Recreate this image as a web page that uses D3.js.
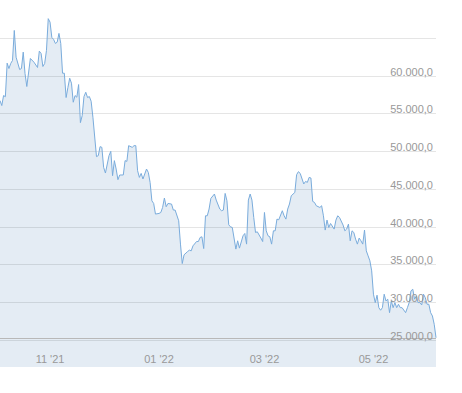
<!DOCTYPE html>
<html>
<head>
<meta charset="utf-8">
<script src="https://cdn.jsdelivr.net/npm/d3@7"></script>
<style>
  body { margin: 0; background: #fff; }
  text { font-family: Arial, "Liberation Sans", sans-serif; font-size: 11px; fill: #999; }
</style>
</head>
<body>
<div id="chart"></div>
<script>
// price series (day offset from startDate -> value)
var startDate = "2021-10-04";
var dayOffsets = [0,1,2,3,4,5,6,7,8,9,11,12,13,14,15,17,19,21,22,23,24,25,26,27,28,29,30,31,32,33,34,35,36,37,38,39,40,41,42,43,44,45,46,47,48,49,50,51,52,
  54,55,56,57,58,59,61,62,63,64,65,66,67,69,70,71,72,74,75,76,77,78,79,80,82,83,84,85,86,87,89,90,91,92,93,94,96,97,98,
  100,101,102,103,105,106,107,108,110,111,112,113,114,115,116,117,118,120,121,123,124,125,126,127,128,129,130,132,133,134,136,137,138,139,140,141,142,143,144,146,147,148,149,
  150,151,152,153,154,155,156,158,159,160,161,162,163,165,166,167,168,170,171,172,173,174,175,176,177,179,180,181,182,183,184,185,187,188,189,190,192,193,194,195,196,197,198,199,
  200,201,202,203,204,205,206,207,208,209,210,211,212,213,214,215,216,217,218,219,220,221,222,223,224,225,227,228,229,230,231,232,233,234,235,236,237,238,239,240,241,242,243,244];
var prices = [56690,56030,57350,57200,61640,60930,61600,62000,65970,62430,60800,60930,63100,60270,58550,62260,61770,61070,63230,62920,61200,61600,63320,67530,67070,65050,64780,64250,64420,65580,64250,60310,60310,57090,58420,59650,58990,56470,57350,57130,58810,53770,54700,57220,57790,57090,57220,56600,54480,
  49270,49400,50590,50500,47850,47100,49400,49970,46750,48740,47630,46220,46840,46840,48740,48640,50720,50500,50720,50720,47410,46520,47050,46310,47630,47180,45860,43430,43070,41670,41750,41880,42540,43790,42640,43070,42990,42200,42200,
  40780,37690,35120,36270,36710,36890,36800,37460,38030,38030,38570,38660,37100,41440,41440,42330,43740,44320,43520,42330,42110,42200,44400,43430,40250,39980,39890,37030,38130,37160,38790,39100,37690,43520,44320,43520,41220,39230,39320,38490,38030,41880,39450,
  38790,38660,37690,39450,39450,41000,40910,42110,41440,41000,42330,43000,44090,44530,46880,47280,47050,45650,45990,45860,46520,46440,43340,43210,42770,42540,42770,41440,39550,40870,39890,40420,39680,40870,41440,41220,40210,39450,39680,40340,38130,39450,39230,38350,
  37690,38490,38130,37690,39550,36800,36140,35480,34150,31060,29950,30930,29280,28940,29280,31060,30170,30400,28620,30170,29280,29950,29280,29730,29280,29280,28620,29280,29950,31500,31720,30400,30830,29950,29950,29640,31060,30610,29730,29730,28620,28180,27080,25300];

var gridValues = [25000, 30000, 35000, 40000, 45000, 50000, 55000, 60000, 65000];
var labelValues = [25000, 30000, 35000, 40000, 45000, 50000, 55000, 60000];

var svgWidth = 462;
var svgHeight = 393;
var plotRight = 436;
var plotBottom = 340;
var bandBottom = 367;

var t0 = d3.timeParse("%Y-%m-%d")(startDate);
var data = dayOffsets.map(function(d, i) {
  return { date: d3.timeDay.offset(t0, d), value: prices[i] };
});

var x = d3.scaleTime()
  .domain([t0, d3.timeDay.offset(t0, 244)])
  .range([0, plotRight]);

var y = d3.scaleLinear()
  .domain([25000, 70000])
  .range([plotBottom, 0]);

var de = d3.formatLocale({ decimal: ",", thousands: ".", grouping: [3], currency: ["", ""] });
var fmtY = de.format(",.1f");
var fmtX = d3.timeFormat("%m '%y");

var svg = d3.select("#chart")
  .append("svg")
  .attr("width", svgWidth)
  .attr("height", svgHeight);

// band under the plot where the month labels sit
svg.append("rect")
  .attr("x", 0)
  .attr("y", plotBottom)
  .attr("width", plotRight)
  .attr("height", bandBottom - plotBottom)
  .attr("fill", "#e4ecf4");

var area = d3.area()
  .x(function(d) { return x(d.date); })
  .y0(plotBottom)
  .y1(function(d) { return y(d.value); });

svg.append("path")
  .datum(data)
  .attr("d", area)
  .attr("fill", "#e4ecf4");

// grid
svg.selectAll("line.grid")
  .data(gridValues)
  .enter()
  .append("line")
  .attr("class", "grid")
  .attr("x1", 0)
  .attr("x2", plotRight)
  .attr("y1", function(d) { return Math.round(y(d)) + 0.5; })
  .attr("y2", function(d) { return Math.round(y(d)) + 0.5; })
  .attr("stroke", "#000")
  .attr("stroke-opacity", 0.1);

var line = d3.line()
  .x(function(d) { return x(d.date); })
  .y(function(d) { return y(d.value); });

svg.append("path")
  .datum(data)
  .attr("d", line)
  .attr("fill", "none")
  .attr("stroke", "#7aacdc")
  .attr("stroke-width", 1);

// x axis line
svg.append("line")
  .attr("x1", 0)
  .attr("x2", plotRight)
  .attr("y1", Math.round(y(25000)) - 1.5)
  .attr("y2", Math.round(y(25000)) - 1.5)
  .attr("stroke", "#b8b8b8");

// y labels
svg.selectAll("text.ylab")
  .data(labelValues)
  .enter()
  .append("text")
  .attr("class", "ylab")
  .attr("x", 433)
  .attr("y", function(d) { return Math.round(y(d)) - 0.5; })
  .attr("text-anchor", "end")
  .text(function(d) { return fmtY(d); });

// x labels
svg.selectAll("text.xlab")
  .data(x.ticks(d3.timeMonth.every(2)))
  .enter()
  .append("text")
  .attr("class", "xlab")
  .attr("x", function(d) { return x(d); })
  .attr("y", 363)
  .attr("text-anchor", "middle")
  .text(function(d) { return fmtX(d); });
</script>
</body>
</html>
